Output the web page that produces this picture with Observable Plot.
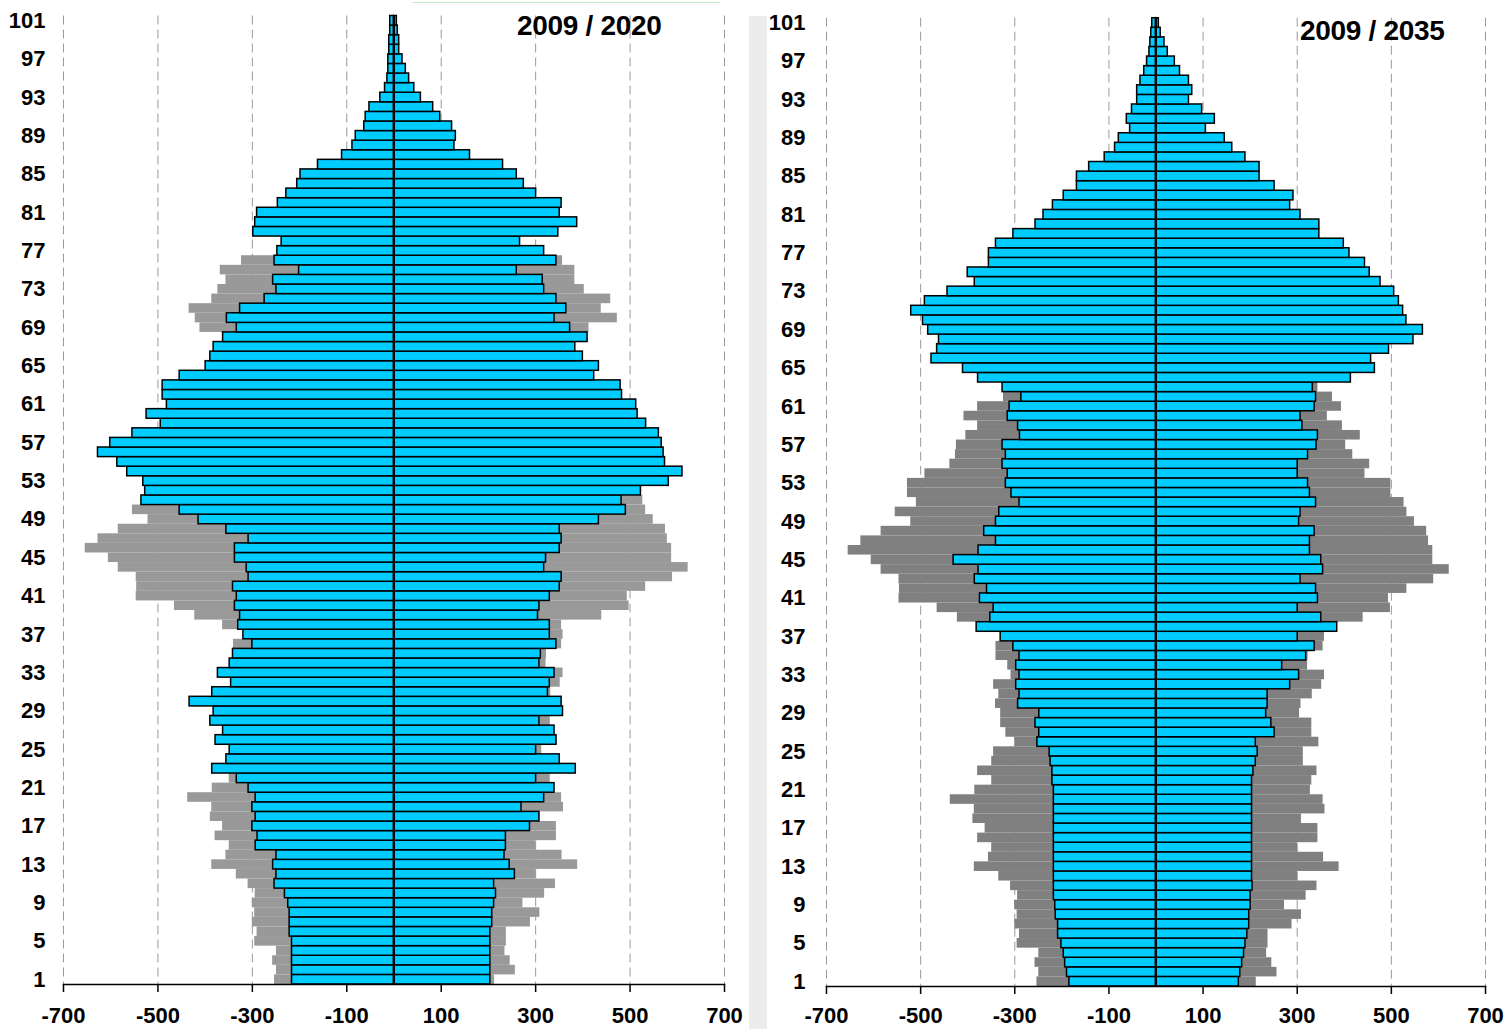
<!DOCTYPE html>
<html>
<head>
<meta charset="utf-8">
<script src="https://cdn.jsdelivr.net/npm/d3@7"></script>
<script src="https://cdn.jsdelivr.net/npm/@observablehq/plot@0.6"></script>
<style>
  html, body { margin: 0; padding: 0; background: #fff; }
  body { width: 1510px; height: 1029px; overflow: hidden; position: relative; font-family: "Liberation Sans", Arial, sans-serif; }
  #left, #right { position: absolute; top: 0; }
  #left { left: 0; }
  #right { left: 755px; }
  .strip { position: absolute; left: 749px; top: 16px; width: 18px; height: 1013px; background: #ececec; }
  .title { position: absolute; font-weight: bold; font-size: 28px; color: #000; white-space: nowrap; line-height: 1; letter-spacing: -0.3px; }
  .topline { position: absolute; left: 412px; top: 2px; width: 308px; height: 1px; background: #c4ecc4; }
</style>
</head>
<body>
<div class="strip"></div>
<div class="topline"></div>
<div id="left"></div>
<div id="right"></div>
<div class="title" style="left:517px; top:12px;">2009 / 2020</div>
<div class="title" style="left:1300px; top:17px;">2009 / 2035</div>
<script>
// Ages 1..101 (category axis, bottom to top)
const ages = d3.range(1, 102);
const ageTickLabels = [101, 97, 93, 89, 85, 81, 77, 73, 69, 65, 61, 57, 53, 49, 45, 41, 37, 33, 29, 25, 21, 17, 13, 9, 5, 1];
const xTicks = [-700, -500, -300, -100, 100, 300, 500, 700];

// 2009 (grey background), left side magnitudes, ages 1..101
const left2009 = [
  253, 249, 257, 249, 295, 290, 300, 295, 300, 294,
  309, 334, 386, 356, 349, 379, 363, 389, 386, 437,
  385, 349, 379, 349, 345, 300, 319, 330, 330, 341,
  334, 345, 308, 315, 340, 340, 312, 363, 422, 465,
  546, 545, 546, 584, 605, 654, 627, 584, 521, 554,
  509, 528, 528, 491, 438, 426, 424, 404, 379, 408,
  379, 324, 310, 330, 290, 340, 330, 340, 411, 421,
  434, 386, 373, 356, 368, 323, 200, 190, 180, 165,
  150, 130, 115, 100, 85, 70, 58, 45, 36, 28,
  20, 15, 10, 7, 5, 3, 2, 2, 1, 1,
  1
];
// 2009 right side
const right2009 = [
  213, 257, 246, 235, 238, 238, 289, 309, 273, 319,
  342, 301, 389, 356, 301, 344, 344, 309, 359, 355,
  328, 331, 342, 313, 313, 346, 331, 331, 305, 308,
  332, 352, 358, 322, 323, 355, 358, 355, 440, 498,
  494, 533, 590, 623, 588, 588, 579, 575, 549, 533,
  527, 499, 499, 444, 454, 418, 403, 434, 396, 364,
  394, 375, 344, 380, 330, 390, 370, 360, 413, 473,
  439, 459, 403, 383, 383, 357, 290, 255, 255, 240,
  225, 210, 195, 175, 160, 140, 120, 100, 85, 68,
  52, 40, 30, 22, 15, 10, 7, 4, 3, 2,
  1
];
// 2020 (blue, left chart)
const left2020 = [
  216, 216, 216, 216, 216, 221, 221, 221, 224, 231,
  253, 249, 256, 249, 293, 289, 300, 293, 300, 293,
  308, 333, 385, 355, 348, 378, 362, 389, 382, 433,
  385, 345, 373, 348, 341, 300, 319, 330, 326, 337,
  333, 341, 308, 312, 337, 337, 308, 355, 414, 454,
  535, 527, 531, 565, 586, 627, 601, 554, 494, 524,
  481, 490, 490, 454, 399, 389, 382, 362, 333, 354,
  326, 274, 249, 256, 201, 253, 247, 238, 298, 294,
  290, 246, 228, 205, 198, 161, 110, 88, 81, 63,
  60, 52, 29, 19, 14, 12, 12, 10, 10, 8,
  8
];
const right2020 = [
  204, 204, 204, 204, 204, 204, 208, 208, 212, 216,
  212, 256, 245, 234, 237, 237, 288, 308, 270, 318,
  340, 301, 385, 351, 301, 344, 340, 308, 358, 355,
  326, 330, 340, 308, 311, 344, 330, 330, 305, 308,
  330, 351, 355, 318, 322, 351, 355, 351, 434, 491,
  482, 523, 582, 611, 574, 571, 567, 561, 534, 516,
  513, 483, 480, 424, 434, 400, 384, 410, 373, 340,
  365, 344, 318, 315, 260, 344, 318, 267, 348, 388,
  351, 355, 301, 275, 260, 231, 161, 128, 131, 123,
  98, 83, 57, 43, 32, 25, 18, 11, 11, 8,
  6
];
// 2035 (blue, right chart)
const left2035 = [
  184, 189, 193, 196, 201, 208, 208, 213, 214, 217,
  217, 217, 217, 217, 217, 217, 217, 217, 217, 217,
  217, 220, 220, 224, 226, 252, 248, 256, 248, 293,
  290, 297, 290, 297, 290, 303, 330, 381, 352, 345,
  374, 359, 385, 377, 430, 377, 340, 365, 340, 333,
  290, 307, 319, 315, 326, 319, 326, 289, 293, 315,
  311, 286, 326, 378, 410, 477, 465, 461, 484, 495,
  520, 491, 443, 385, 400, 355, 355, 340, 303, 256,
  239, 219, 196, 168, 168, 142, 109, 87, 79, 55,
  62, 51, 40, 40, 33, 25, 19, 14, 12, 10,
  8
];
const right2035 = [
  176, 179, 183, 187, 190, 194, 198, 198, 201, 201,
  205, 204, 204, 204, 204, 204, 204, 204, 204, 204,
  204, 204, 207, 212, 216, 212, 252, 245, 234, 237,
  237, 285, 304, 268, 319, 337, 301, 385, 351, 301,
  344, 340, 307, 355, 351, 327, 327, 337, 304, 307,
  340, 327, 323, 301, 301, 323, 341, 344, 311, 307,
  337, 340, 333, 414, 465, 457, 495, 547, 567, 532,
  525, 516, 506, 477, 454, 444, 411, 399, 347, 347,
  307, 285, 292, 252, 220, 220, 190, 162, 146, 106,
  125, 98, 70, 77, 70, 51, 40, 25, 18, 10,
  6
];

function rows(leftVals, rightVals) {
  const out = [];
  ages.forEach((a, i) => {
    out.push({age: a, x1: 0, x2: -leftVals[i]});
    out.push({age: a, x1: 0, x2: rightVals[i]});
  });
  return out;
}

function pyramid({width, marginLeft, marginRight, marginTop, marginBottom, greyFill, blueL, blueR, labelPad, xPad}) {
  return Plot.plot({
    width,
    height: 1029,
    marginLeft, marginRight, marginTop, marginBottom,
    style: {background: "transparent", fontFamily: "'Liberation Sans', Arial, sans-serif", color: "#000", overflow: "visible"},
    x: {domain: [-700, 700], label: null},
    y: {domain: ages.slice().reverse(), padding: 0, axis: null, label: null},
    marks: [
      Plot.ruleX(xTicks, {stroke: "#9a9a9a", strokeWidth: 1, strokeDasharray: "9,5"}),
      Plot.barX(rows(left2009, right2009), {y: "age", x1: "x1", x2: "x2", fill: greyFill}),
      Plot.barX(rows(blueL, blueR), {y: "age", x1: "x1", x2: "x2", fill: "#00ccff", stroke: "#000", strokeWidth: 1.5}),
      Plot.ruleX([0], {stroke: "#000", strokeWidth: 2}),
      Plot.frame({anchor: "bottom", stroke: "#000", strokeWidth: 1.5}),
      Plot.axisY(ageTickLabels, {tickSize: 0, tickPadding: labelPad, fontSize: 22, fontWeight: "bold", fill: "#000", label: null}),
      Plot.axisX(xTicks, {tickSize: 8, tickPadding: xPad, fontSize: 22, fontWeight: "bold", fill: "#000", stroke: "#000", strokeWidth: 1.5, label: null, tickFormat: d => String(d)})
    ]
  });
}

document.getElementById("left").append(pyramid({
  width: 748, marginLeft: 63, marginRight: 24, marginTop: 15.5, marginBottom: 45,
  greyFill: "#999999", blueL: left2020, blueR: right2020, labelPad: 18, xPad: 15
}));
document.getElementById("right").append(pyramid({
  width: 755, marginLeft: 71, marginRight: 25, marginTop: 17.7, marginBottom: 43,
  greyFill: "#808080", blueL: left2035, blueR: right2035, labelPad: 21, xPad: 13
}));
</script>
</body>
</html>
